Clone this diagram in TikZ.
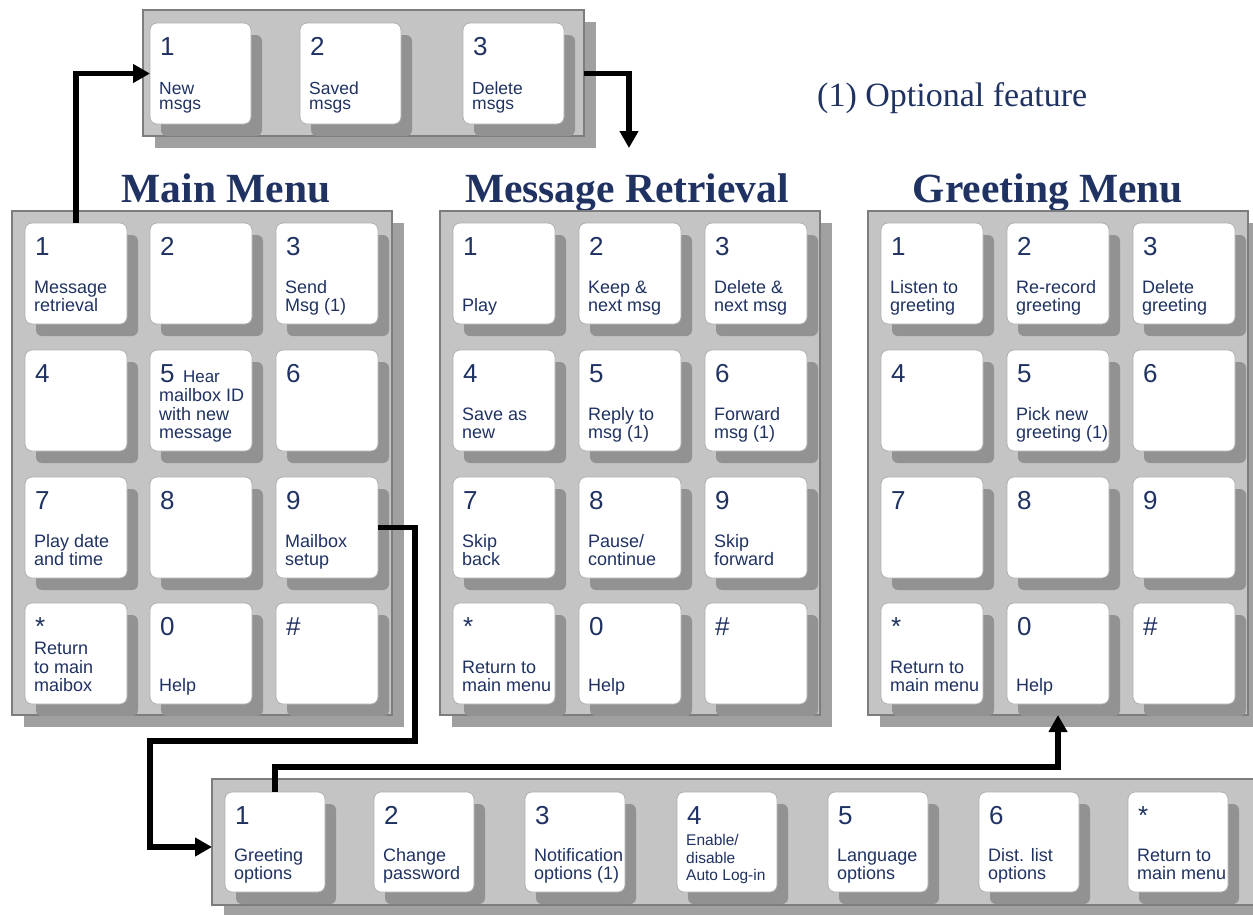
\documentclass[tikz,border=0pt]{standalone}
\usepackage{fontspec}
\setmainfont{Liberation Sans}
\newfontfamily\serifF{Liberation Serif}
\usetikzlibrary{arrows.meta,calc}
\definecolor{navy}{RGB}{32,50,98}
\definecolor{panelgray}{RGB}{196,196,196}
\definecolor{pshadow}{RGB}{160,160,160}
\definecolor{kshadow}{RGB}{146,146,146}
\definecolor{edgegray}{RGB}{125,125,125}
\definecolor{keyedge}{RGB}{175,175,175}
\newcommand\dep{\vrule width 0pt height 0pt depth 4pt}
\def\kw{102}\def\kh{101}
\newcommand\pkey[6][]{%
  \fill[kshadow,rounded corners=6pt] ({#3+11},{#4+12}) rectangle ++(\kw,\kh);
  \node[keybox,minimum width=\kw pt,minimum height=\kh pt,anchor=north west] (#2) at (#3,#4) {};
  \node[dig,anchor=base west] (#2d) at ($(#2.north west)+(10,32)$) {#5};
  \if\relax\detokenize{#6}\relax\else
  \node[lab,anchor=south west,#1] (#2l) at ($(#2.south west)+(9,-8)$) {#6\dep};
  \fi
}
\newcommand\ppanel[5]{% name x y w h
  \fill[pshadow] ({#2+12},{#3+12}) rectangle ++(#4,#5);
  \node[panel,minimum width=#4pt,minimum height=#5pt,anchor=north west] (#1) at (#2,#3) {};
}
\tikzset{
  keybox/.style={draw=keyedge,line width=0.8pt,fill=white,rounded corners=7pt,inner sep=0pt,outer sep=0pt},
  panel/.style={draw=edgegray,line width=1.2pt,fill=panelgray,inner sep=0pt,outer sep=0pt},
  dig/.style={text=navy,font=\fontsize{26}{28}\selectfont,inner sep=0pt},
  lab/.style={text=navy,font=\fontsize{18}{18.5}\selectfont,align=left,inner sep=0pt},
  ttl/.style={text=navy,font=\serifF\bfseries\fontsize{41.5}{44}\selectfont,inner sep=0pt},
  note/.style={text=navy,font=\serifF\fontsize{34}{36}\selectfont,inner sep=0pt},
  arr/.style={line width=5.5pt,line join=miter,-{Triangle[length=17pt,width=18pt]}},
  smalllab/.style={font=\fontsize{17.5}{15.5}\selectfont,yshift=2pt},
}
\begin{document}
\begin{tikzpicture}[x=1pt,y=-1pt]
\useasboundingbox (0,0) rectangle (1253,914);
\clip (0,0) rectangle (1253,914);
\fill[white] (0,0) rectangle (1253,914);

% ---------- top panel ----------
\ppanel{tp}{143}{10}{441}{126}
\def\kw{101}\def\kh{101}
\pkey[smalllab]{t1}{150}{23}{1}{New\\msgs}
\pkey[smalllab]{t2}{300}{23}{2}{Saved\\msgs}
\pkey[smalllab]{t3}{463}{23}{3}{Delete\\msgs}

\node[note,anchor=base west] (opt) at (817,106) {(1) Optional feature};

% ---------- titles ----------
\node[ttl,anchor=base] (ttlmain) at (226,202) {Main Menu};
\node[ttl,anchor=base] (ttlmsg) at (627,202) {Message Retrieval};
\node[ttl,anchor=base] (ttlgr) at (1048,202) {Greeting Menu};

% ---------- main menu ----------
\ppanel{mp}{12}{211}{380}{504}
\def\kw{102}\def\kh{101}
\pkey{m1}{25}{223}{1}{Message\\retrieval}
\pkey{m2}{150}{223}{2}{}
\pkey{m3}{276}{223}{3}{Send\\Msg (1)}
\pkey{m4}{25}{350}{4}{}
\pkey{m5}{150}{350}{5}{mailbox ID\\with new\\message}
\node[lab,anchor=base west,font=\fontsize{17}{18}\selectfont] (m5h) at ($(m5d.base east)+(8,0)$) {Hear};
\pkey{m6}{276}{350}{6}{}
\pkey{m7}{25}{477}{7}{Play date\\and time}
\pkey{m8}{150}{477}{8}{}
\pkey{m9}{276}{477}{9}{Mailbox\\setup}
\pkey{mstar}{25}{603}{*}{Return\\to main\\maibox}
\pkey{mzero}{150}{603}{0}{Help}
\pkey{mhash}{276}{603}{\#}{}

% ---------- message retrieval ----------
\ppanel{rp}{440}{211}{380}{504}
\pkey{r1}{453}{223}{1}{Play}
\pkey{r2}{579}{223}{2}{Keep \&\\next msg}
\pkey{r3}{705}{223}{3}{Delete \&\\next msg}
\pkey{r4}{453}{350}{4}{Save as\\new}
\pkey{r5}{579}{350}{5}{Reply to\\msg (1)}
\pkey{r6}{705}{350}{6}{Forward\\msg (1)}
\pkey{r7}{453}{477}{7}{Skip\\back}
\pkey{r8}{579}{477}{8}{Pause/\\continue}
\pkey{r9}{705}{477}{9}{Skip\\forward}
\pkey{rstar}{453}{603}{*}{Return to\\main menu}
\pkey{rzero}{579}{603}{0}{Help}
\pkey{rhash}{705}{603}{\#}{}

% ---------- greeting menu ----------
\ppanel{gp}{868}{211}{380}{504}
\pkey{g1}{881}{223}{1}{Listen to\\greeting}
\pkey{g2}{1007}{223}{2}{Re-record\\greeting}
\pkey{g3}{1133}{223}{3}{Delete\\greeting}
\pkey{g4}{881}{350}{4}{}
\pkey{g5}{1007}{350}{5}{Pick new\\greeting (1)}
\pkey{g6}{1133}{350}{6}{}
\pkey{g7}{881}{477}{7}{}
\pkey{g8}{1007}{477}{8}{}
\pkey{g9}{1133}{477}{9}{}
\pkey{gstar}{881}{603}{*}{Return to\\main menu}
\pkey{gzero}{1007}{603}{0}{Help}
\pkey{ghash}{1133}{603}{\#}{}

% ---------- bottom panel ----------
\ppanel{bp}{212}{779}{1060}{126}
\def\kw{100}\def\kh{100}
\pkey{b1}{225}{792}{1}{Greeting\\options}
\pkey{b2}{374}{792}{2}{Change\\password}
\pkey{b3}{525}{792}{3}{Notification\\options (1)}
\pkey[font=\fontsize{15.5}{17.5}\selectfont,yshift=-1pt]{b4}{677}{792}{4}{Enable/\\disable\\Auto Log-in}
\pkey{b5}{828}{792}{5}{Language\\options}
\pkey{b6}{979}{792}{6}{Dist. list\\options}
\pkey{bstar}{1128}{792}{*}{Return to\\main menu}

% ---------- connectors ----------
\draw[arr] (m1.north) |- (t1.west);
\coordinate (a2) at (629,148);
\draw[arr] (tp.east |- t3.east) -| (a2);
\coordinate (a3b) at (415,741);
\coordinate (a3c) at (150,847);
\draw[arr] (m9.east) -| (a3b) -- (a3b -| a3c) |- (bp.west |- a3c);
\coordinate (a4) at (1058,767);
\draw[arr] (b1.north) |- (a4) -- (a4 |- gp.south);
\end{tikzpicture}
\end{document}
